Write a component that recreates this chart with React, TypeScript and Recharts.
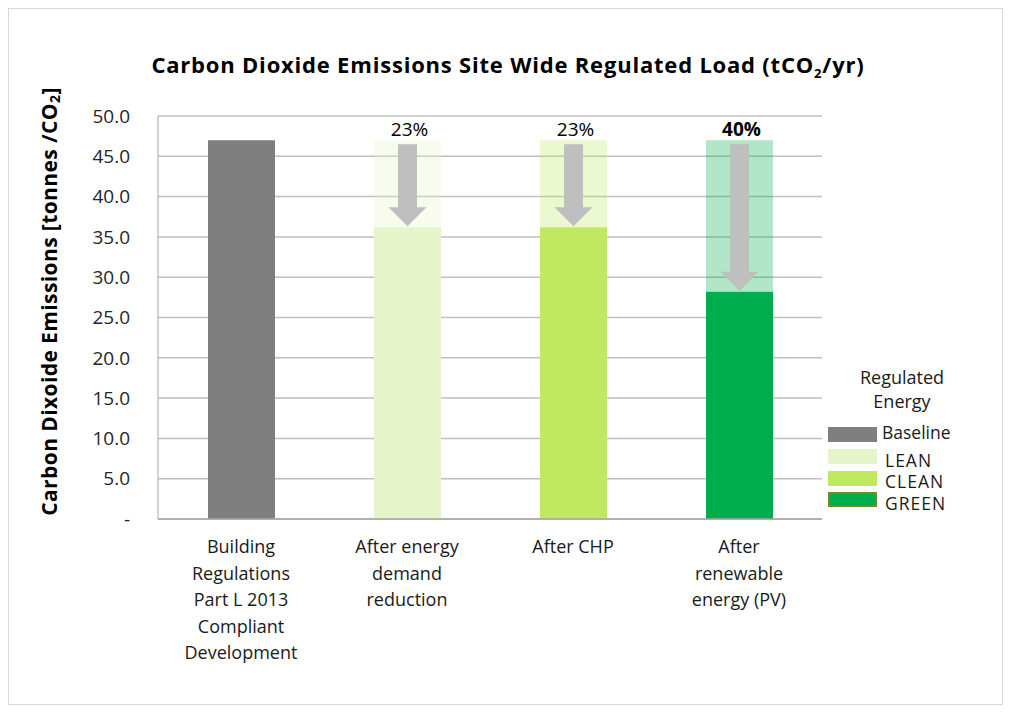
import React from "react";
import { BarChart, Bar, XAxis, YAxis, CartesianGrid, Cell } from "recharts";

// category labels, one entry per line
const categories = [
  ["Building", "Regulations", "Part L 2013", "Compliant", "Development"],
  ["After energy", "demand", "reduction"],
  ["After CHP"],
  ["After", "renewable", "energy (PV)"],
];
const stages = ["Baseline", "LEAN", "CLEAN", "GREEN"];
const emissions = [47.0, 36.2, 36.2, 28.2];
const baselineEmissions = 47.0;
const savingLabels = ["", "23%", "23%", "40%"];
const yTicks = [0, 5, 10, 15, 20, 25, 30, 35, 40, 45, 50];

const COLORS = ["#7f7f7f", "#e6f5c9", "#c0e95f", "#00ad4c"];
const FONT = "'Open Sans', sans-serif";

const data = categories.map((lines, i) => ({
  name: lines.join(" "),
  value: emissions[i],
  saved: baselineEmissions - emissions[i],
  label: savingLabels[i],
}));

const SavingShape = (props: any) => {
  const { x, y, width, height, index } = props;
  if (!height || height <= 0) return null;
  const cx = x + width / 2;
  const top = y + 4;
  const tip = y + height - 1;
  const neck = tip - 19;
  const points = [
    [cx - 9.5, top],
    [cx + 9.5, top],
    [cx + 9.5, neck],
    [cx + 19, neck],
    [cx, tip],
    [cx - 19, neck],
    [cx - 9.5, neck],
  ]
    .map((p) => p.join(","))
    .join(" ");
  return (
    <g>
      <rect x={x} y={y} width={width} height={height} fill={COLORS[index]} fillOpacity={0.3} />
      <polygon points={points} fill="#bfbfbf" />
      <text
        x={cx + 2}
        y={y - 4}
        textAnchor="middle"
        fontSize={19}
        fontFamily={FONT}
        fontWeight={index === emissions.length - 1 ? 700 : 400}
        fill="#000"
      >
        {props.payload.label}
      </text>
    </g>
  );
};

const CategoryTick = (props: any) => {
  const { x, y, payload } = props;
  const lines = categories[payload.index] || [];
  return (
    <text x={x} y={y} textAnchor="middle" fontSize={18} fontFamily={FONT} fill="#1a1a1a">
      {lines.map((l, i) => (
        <tspan key={i} x={x} dy={i === 0 ? 26 : 26.5}>
          {l}
        </tspan>
      ))}
    </text>
  );
};

const YLabel = (props: any) => {
  const { viewBox } = props;
  const cx = 40;
  const cy = viewBox.y + viewBox.height / 2 - 16;
  return (
    <text
      x={cx}
      y={cy}
      transform={`rotate(-90, ${cx}, ${cy})`}
      textAnchor="middle"
      dominantBaseline="central"
      fontSize={21}
      letterSpacing={0.4}
      fontWeight={700}
      fontFamily={FONT}
      fill="#000"
    >
      Carbon Dixoide Emissions [tonnes /CO
      <tspan fontSize={14} dy={5}>2</tspan>
      <tspan dy={-5}>]</tspan>
    </text>
  );
};

const LegendBox = () => (
  <div
    style={{
      position: "absolute",
      left: 819,
      top: 356,
      width: 175,
      fontFamily: FONT,
      color: "#1a1a1a",
    }}
  >
    <div style={{ textAlign: "center", fontSize: 18, lineHeight: "24px", width: 148 }}>
      Regulated
      <br />
      Energy
    </div>
    <div style={{ marginTop: 11 }}>
      {stages.map((s, i) => (
        <div key={s} style={{ display: "flex", alignItems: "center", height: 21.7 }}>
          <div
            style={{
              width: 49,
              height: 15,
              background: COLORS[i],
              boxSizing: "border-box",
              border: i === 3 ? "2px solid #6f8c1f" : "none",
              marginRight: i === 0 ? 5 : 8,
            }}
          />
          <span
            style={{
              fontSize: 17.5,
              lineHeight: "20px",
              letterSpacing: i === 0 ? 0 : 1,
              position: "relative",
              top: i === 0 ? -3 : 3,
            }}
          >
            {s}
          </span>
        </div>
      ))}
    </div>
  </div>
);

export default function App() {
  return (
    <div
      style={{
        position: "relative",
        width: 993,
        height: 695,
        border: "1px solid #d9d9d9",
        background: "#fff",
        fontFamily: FONT,
      }}
    >
      <div
        style={{
          position: "absolute",
          top: 40,
          left: 0,
          width: 998,
          textAlign: "center",
          fontSize: 22,
          letterSpacing: 0.8,
          fontWeight: 700,
          zIndex: 2,
        }}
      >
        Carbon Dioxide Emissions Site Wide Regulated Load (tCO<sub style={{ fontSize: 13 }}>2</sub>/yr)
      </div>
      <BarChart
        width={993}
        height={695}
        data={data}
        margin={{ top: 107, right: 180, left: 0, bottom: 0 }}
        barSize={67}
      >
        <CartesianGrid vertical={false} stroke="#bfbfbf" strokeWidth={1.5} />
        <XAxis
          dataKey="name"
          height={185}
          tickLine={false}
          axisLine={{ stroke: "#a6a6a6", strokeWidth: 1.5 }}
          tick={<CategoryTick />}
          interval={0}
        />
        <YAxis
          width={149}
          domain={[0, 50]}
          ticks={yTicks}
          tickLine={false}
          axisLine={{ stroke: "#a6a6a6" }}
          tickMargin={22}
          tick={{ fontSize: 19, fill: "#262626", fontFamily: FONT }}
          tickFormatter={(v: number) => (v === 0 ? "-" : v.toFixed(1))}
          label={<YLabel />}
        />
        <Bar dataKey="value" stackId="a" isAnimationActive={false}>
          {data.map((_, i) => (
            <Cell key={`cell-${i}`} fill={COLORS[i]} />
          ))}
        </Bar>
        <Bar dataKey="saved" stackId="a" isAnimationActive={false} shape={<SavingShape />} />
      </BarChart>
      <LegendBox />
    </div>
  );
}
